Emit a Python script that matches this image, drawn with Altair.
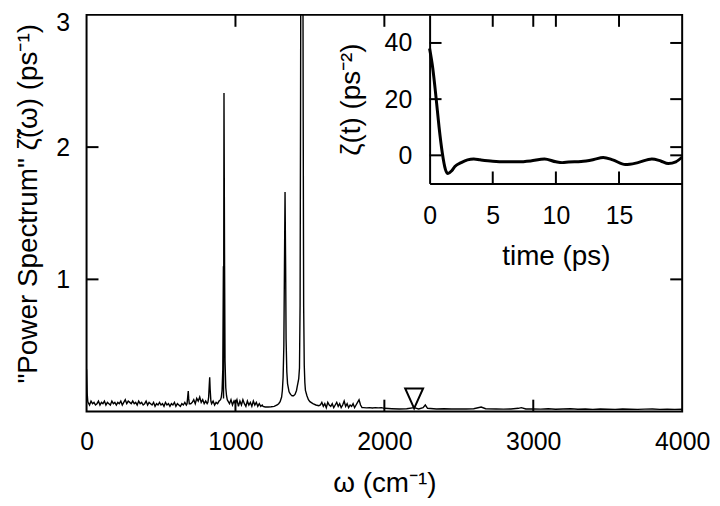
import altair as alt
import pandas as pd

# ---------------- data ----------------
# main spectrum: noisy baseline sampled every 10 cm^-1 from 10 to 1180
noise_low = [
    0.07, 0.05, 0.08, 0.06, 0.07, 0.05, 0.06, 0.08, 0.05, 0.07,
    0.06, 0.08, 0.05, 0.07, 0.06, 0.05, 0.08, 0.06, 0.07, 0.05,
    0.07, 0.06, 0.08, 0.05, 0.07, 0.09, 0.06, 0.08, 0.07, 0.06,
    0.08, 0.06, 0.07, 0.05, 0.08, 0.06, 0.07, 0.05, 0.06, 0.08,
    0.05, 0.07, 0.06, 0.05, 0.07, 0.04, 0.06, 0.05, 0.07, 0.05,
    0.06, 0.04, 0.07, 0.05, 0.06, 0.04, 0.06, 0.05, 0.07, 0.04,
    0.06, 0.05, 0.04, 0.06, 0.05, 0.07, 0.05, 0.06, 0.05, 0.06,
    0.07, 0.09, 0.06, 0.10, 0.08, 0.11, 0.07, 0.09, 0.06, 0.08,
    0.06, 0.07, 0.06, 0.06, 0.08, 0.05, 0.07, 0.06, 0.08, 0.09,
    0.10, 0.10, 0.10, 0.10, 0.08, 0.06, 0.09, 0.05, 0.08, 0.06,
    0.09, 0.04, 0.08, 0.05, 0.09, 0.06, 0.04, 0.08, 0.05, 0.07,
    0.04, 0.08, 0.05, 0.07, 0.04, 0.06, 0.04, 0.05,
]
# noisy baseline sampled every 10 cm^-1 from 1570 to 1850
noise_mid = [
    0.05, 0.07, 0.04, 0.06, 0.03, 0.07, 0.05, 0.04, 0.06, 0.03,
    0.05, 0.07, 0.04, 0.06, 0.03, 0.05, 0.08, 0.04, 0.06, 0.03,
    0.05, 0.04, 0.06, 0.03, 0.05, 0.07, 0.09, 0.05, 0.03,
]
head_w = [0, 4, 8]
head_v = [0.32, 0.14, 0.08]
peak_w = [675, 680, 683, 686, 690,
          815, 820, 824, 827, 830, 835,
          900, 905, 910, 915, 919, 923, 927, 930, 935, 940, 945,
          1185, 1200, 1220, 1240, 1260, 1280, 1290, 1300, 1310, 1315, 1320,
          1325, 1329, 1333, 1337, 1340, 1345, 1350, 1360, 1370, 1380, 1390,
          1400, 1410, 1415, 1420, 1425, 1430, 1434, 1437, 1440, 1446, 1452,
          1455, 1458, 1462, 1466, 1470, 1480, 1490, 1500, 1520, 1540, 1560]
peak_v = [0.06, 0.12, 0.155, 0.10, 0.06,
          0.07, 0.11, 0.20, 0.26, 0.17, 0.08,
          0.09, 0.11, 0.16, 0.32, 1.10, 2.41, 1.10, 0.38, 0.18, 0.12, 0.09,
          0.04, 0.035, 0.035, 0.037, 0.04, 0.05, 0.06, 0.075, 0.11, 0.16, 0.26,
          0.50, 1.10, 1.66, 1.10, 0.55, 0.30, 0.21, 0.15, 0.13, 0.12, 0.12,
          0.13, 0.16, 0.19, 0.22, 0.25, 0.33, 0.80, 2.20, 4.00, 4.50, 4.00,
          2.20, 0.80, 0.35, 0.22, 0.16, 0.12, 0.09, 0.075, 0.06, 0.05, 0.045]
tail_w = [1860, 1880, 1900, 1920, 1940, 1960, 1980, 2000,
          2050, 2100, 2150, 2200, 2230, 2260, 2275, 2290,
          2350, 2400, 2450, 2500, 2550, 2600, 2650, 2680,
          2750, 2800, 2850, 2900, 2920, 2950, 3000,
          3050, 3100, 3150, 3200, 3250, 3300, 3350, 3400, 3450, 3500,
          3550, 3600, 3650, 3700, 3750, 3800, 3850, 3900, 3950, 4000]
tail_v = [0.03, 0.028, 0.03, 0.027, 0.03, 0.028, 0.03, 0.025,
          0.022, 0.02, 0.022, 0.03, 0.02, 0.03, 0.05, 0.025,
          0.02, 0.022, 0.02, 0.021, 0.02, 0.022, 0.035, 0.022,
          0.02, 0.019, 0.02, 0.025, 0.03, 0.02, 0.02,
          0.019, 0.022, 0.018, 0.02, 0.022, 0.018, 0.02, 0.017, 0.02, 0.018,
          0.017, 0.02, 0.018, 0.017, 0.019, 0.02, 0.017, 0.018, 0.017, 0.018]

marker_w = [2200]
marker_v = [0.10]

# inset: memory kernel zeta(t)
t_ps = [0, 0.25, 0.5, 0.75, 1.0, 1.25, 1.45, 1.75, 2.0, 2.5, 3.0, 3.5, 4.0,
        5, 6, 7, 8, 9.1, 10, 10.5, 11, 12, 13, 13.75, 14.5, 15.5, 16.5,
        17.6, 18.3, 18.9, 19.5, 20]
zeta_t = [38, 31, 21, 10, 1, -5, -6.5, -5.5, -4, -2.6, -1.6, -1.3, -1.6,
          -2.1, -2.3, -2.3, -2.0, -1.3, -2.3, -2.6, -2.4, -2.2, -1.5, -0.8,
          -1.6, -3.3, -2.6, -1.3, -2.0, -2.9, -2.3, -0.6]

main_x_labels = [0, 1000, 2000, 3000, 4000]
main_y_labels = [1, 2, 3]
main_x_ticks = [1000, 2000, 3000]
main_y_ticks = [1, 2]
inset_x_labels = [0, 5, 10, 15]
inset_x_ticks = [5, 10, 15]
inset_y_ticks = [0, 20, 40]

# ---------------- assemble ----------------
pts = {}
for i, v in enumerate(noise_low):
    pts[10 + 10 * i] = v
for i, v in enumerate(noise_mid):
    pts[1570 + 10 * i] = v
for w, v in zip(head_w + peak_w + tail_w, head_v + peak_v + tail_v):
    pts[w] = v
spec = pd.DataFrame(sorted(pts.items()), columns=["w", "p"])
kernel = pd.DataFrame({"t": t_ps, "z": zeta_t})
marker = pd.DataFrame({"w": marker_w, "p": marker_v})

W, H = 599, 399          # main plot area
IX0, IY1 = 345, 169.5    # inset left edge / bottom edge inside the plot
TK = 12                  # inward tick length
FONT = "Liberation Sans"
LFS, TFS = 25, 28        # label / title font sizes

xs_main = alt.Scale(domain=[0, 4000], range=[0, W], nice=False, zero=False)
ys_main = alt.Scale(domain=[0, 3], range=[H, 0], nice=False, zero=False)
xs_in = alt.Scale(domain=[0, 20], range=[IX0, W], nice=False, zero=False)
ys_in = alt.Scale(domain=[-10, 50], range=[IY1, 0], nice=False, zero=False)

main = alt.Chart(spec).mark_line(color="black", strokeWidth=1.4, clip=True).encode(
    x=alt.X("w:Q", scale=xs_main,
            axis=alt.Axis(orient="bottom", values=main_x_labels, format="d",
                          title="ω (cm⁻¹)", labelPadding=18, titlePadding=15,
                          domain=False, ticks=False, tickSize=0, labelFlush=False)),
    y=alt.Y("p:Q", scale=ys_main,
            axis=alt.Axis(orient="left", values=main_y_labels, format="d",
                          title='"Power Spectrum"  ζ̃(ω) (ps⁻¹)',
                          labelPadding=17, titlePadding=13, titleY=189.5,
                          labelOffset={"condition": {"test": "datum.value == 3", "value": 8},
                                       "value": 0},
                          domain=False, ticks=False, tickSize=0, labelFlush=False)),
)

tri = alt.Chart(marker).mark_point(
    shape="M-0.9,-1L0.9,-1L0,1Z", size=400, filled=False, color="black",
    strokeWidth=2, opacity=1
).encode(
    x=alt.X("w:Q", scale=xs_main, axis=None),
    y=alt.Y("p:Q", scale=ys_main, axis=None),
)

rule = dict(color="black", strokeWidth=2)
myt = pd.DataFrame({"v": main_y_ticks})
mxt = pd.DataFrame({"v": main_x_ticks})
iyt = pd.DataFrame({"v": inset_y_ticks})
ixt = pd.DataFrame({"v": inset_x_ticks})

ticks = [
    alt.Chart(myt).mark_rule(**rule).encode(
        y=alt.Y("v:Q", scale=ys_main, axis=None), x=alt.value(0), x2=alt.value(TK)),
    alt.Chart(myt).mark_rule(**rule).encode(
        y=alt.Y("v:Q", scale=ys_main, axis=None), x=alt.value(W - TK), x2=alt.value(W)),
    alt.Chart(mxt).mark_rule(**rule).encode(
        x=alt.X("v:Q", scale=xs_main, axis=None), y=alt.value(H), y2=alt.value(H - TK)),
    alt.Chart(mxt).mark_rule(**rule).encode(
        x=alt.X("v:Q", scale=xs_main, axis=None), y=alt.value(0), y2=alt.value(TK)),
    alt.Chart(iyt).mark_rule(**rule).encode(
        y=alt.Y("v:Q", scale=ys_in, axis=None), x=alt.value(IX0), x2=alt.value(IX0 + TK)),
    alt.Chart(iyt).mark_rule(**rule).encode(
        y=alt.Y("v:Q", scale=ys_in, axis=None), x=alt.value(W - TK), x2=alt.value(W)),
    alt.Chart(ixt).mark_rule(**rule).encode(
        x=alt.X("v:Q", scale=xs_in, axis=None), y=alt.value(IY1), y2=alt.value(IY1 - TK)),
    alt.Chart(ixt).mark_rule(**rule).encode(
        x=alt.X("v:Q", scale=xs_in, axis=None), y=alt.value(0), y2=alt.value(TK)),
]

inset = alt.Chart(kernel).mark_line(color="black", strokeWidth=3, interpolate="monotone").encode(
    x=alt.X("t:Q", scale=xs_in,
            axis=alt.Axis(orient="bottom", offset=-(H - IY1), values=inset_x_labels,
                          format="d", title="time (ps)", labelPadding=20, titlePadding=15,
                          domain=True, ticks=False, tickSize=0, labelFlush=False)),
    y=alt.Y("z:Q", scale=ys_in,
            axis=alt.Axis(orient="left", offset=-IX0, values=inset_y_ticks, format="d",
                          title="ζ(t) (ps⁻²)", labelPadding=18, titlePadding=19,
                          domain=True, ticks=False, tickSize=0, labelFlush=False)),
)

chart = alt.layer(main, tri, *ticks, inset).resolve_scale(
    x="independent", y="independent"
).properties(
    width=W, height=H,
    autosize=alt.AutoSizeParams(type="none"),
    padding={"left": 79, "top": 5.5, "right": 30, "bottom": 92},
).configure_view(
    stroke="black", strokeWidth=2
).configure_axis(
    grid=False, labelFont=FONT, labelFontSize=LFS, labelColor="black",
    titleFont=FONT, titleFontSize=TFS, titleFontWeight="normal", titleColor="black",
    domainColor="black", domainWidth=2, labelOverlap=False
)

chart.save("out.html", embed_options={"renderer": "svg", "actions": False})
